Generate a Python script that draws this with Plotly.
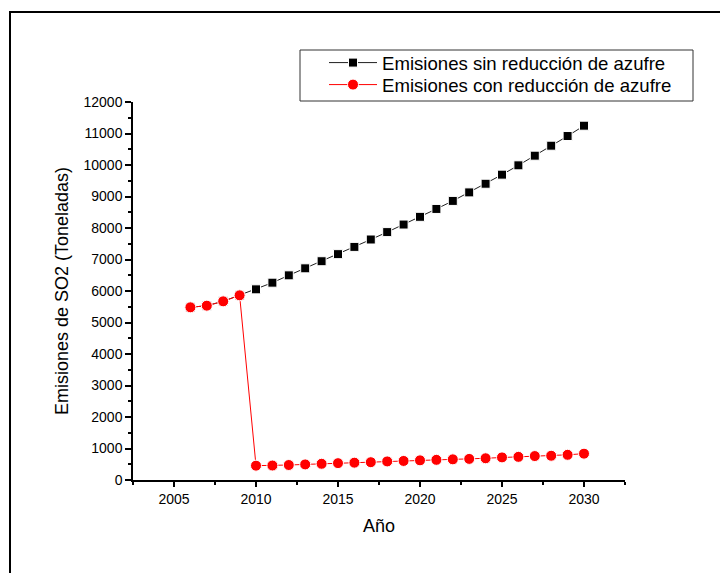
import plotly.graph_objects as go

years = list(range(2006, 2031))
sin_reduccion = [5482, 5534, 5672, 5863, 6053, 6264, 6497, 6720, 6945, 7170,
                 7400, 7635, 7870, 8110, 8355, 8605, 8860, 9130, 9405, 9693,
                 9990, 10296, 10613, 10920, 11248]
con_reduccion = [5482, 5534, 5672, 5863, 455, 460, 476, 495, 515, 535,
                 550, 565, 590, 605, 624, 640, 656, 670, 690, 718,
                 735, 760, 770, 800, 836]

name_sin = "Emisiones sin reducción de azufre"
name_con = "Emisiones con reducción de azufre"
x_title = "Año"
y_title = "Emisiones de SO2 (Toneladas)"

W, H = 720, 573
OFF = 0  # body margin removed by post_script
# plot area in screen pixels: x 133..625, y 102..480
L = 133 - OFF
T = 102 - OFF
R = W - (625 - OFF)
B = H - (480 - OFF)
pw, ph = W - L - R, H - T - B

def px(x):  # screen px -> paper
    return (x - OFF - L) / pw

def py(y):
    return (H - B - (y - OFF)) / ph

FONT = "Arial, Liberation Sans, sans-serif"

fig = go.Figure()
fig.add_trace(go.Scatter(
    x=years, y=sin_reduccion, mode="lines+markers", name=name_sin,
    line=dict(color="#202020", width=1),
    marker=dict(symbol="square", size=9, color="black",
                line=dict(color="white", width=1)),
    legend="legend",
))
fig.add_trace(go.Scatter(
    x=years, y=con_reduccion, mode="lines+markers", name=name_con,
    line=dict(color="#ff0000", width=1),
    marker=dict(symbol="circle", size=11, color="#ff0000",
                line=dict(color="white", width=1)),
    legend="legend2",
))

axis_common = dict(
    showline=True, linecolor="black", linewidth=1.5,
    ticks="outside", tickcolor="black", tickwidth=1.5,
    showgrid=False, zeroline=False, tickformat="d",
    tickfont=dict(family=FONT, size=14, color="black"),
    title_font=dict(family=FONT, size=18, color="black"),
)

fig.update_xaxes(
    range=[2002.5, 2032.5], tickmode="linear", tick0=2005, dtick=5, ticklen=5,
    minor=dict(tickmode="linear", tick0=2002.5, dtick=2.5, ticklen=3,
               ticks="outside", tickcolor="black", tickwidth=1.5),
    title=dict(text=x_title, standoff=14),
    **axis_common,
)
fig.update_yaxes(
    range=[0, 12000], tickmode="linear", tick0=0, dtick=1000, ticklen=6,
    minor=dict(tickmode="linear", tick0=0, dtick=500, ticklen=3,
               ticks="outside", tickcolor="black", tickwidth=1.5),
    title=dict(text=y_title, standoff=10),
    **axis_common,
)

fx0, fy0 = px(10), py(12)
fx1, fy1 = px(760), py(640)
shapes = [
    # outer frame: only left and top edges fall inside the picture
    dict(type="path", xref="paper", yref="paper",
         path=f"M {fx0},{fy1} L {fx0},{fy0} L {fx1},{fy0}",
         line=dict(color="black", width=2)),
    dict(type="rect", xref="paper", yref="paper",
         x0=px(300), x1=px(693), y0=py(101), y1=py(50),
         line=dict(color="#333333", width=1), fillcolor="white", layer="below"),
]

leg_common = dict(
    xanchor="left", yanchor="top",
    bgcolor="rgba(0,0,0,0)", borderwidth=0,
    font=dict(family=FONT, size=18.6, color="black"),
    itemwidth=48,
)

fig.update_layout(
    width=W, height=H,
    margin=dict(l=L, r=R, t=T, b=B, autoexpand=False),
    paper_bgcolor="white", plot_bgcolor="white",
    showlegend=True,
    legend=dict(x=px(324), y=py(44), **leg_common),
    legend2=dict(x=px(324), y=py(66), **leg_common),
    shapes=shapes,
    font=dict(family=FONT, color="black"),
)

fig.write_html(
    "out.html",
    config={"displayModeBar": False},
    post_script="document.body.style.margin='0';"
                "document.body.style.overflow='hidden';"
                "document.documentElement.style.overflow='hidden';",
)
